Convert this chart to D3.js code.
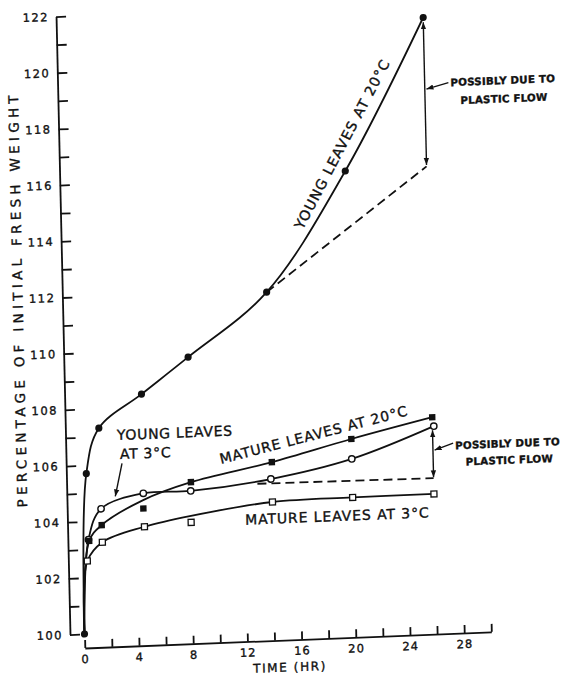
<!DOCTYPE html>
<html><head><meta charset="utf-8">
<script src="https://cdn.jsdelivr.net/npm/d3@7"></script>
<style>
html,body{margin:0;padding:0;background:#fff;}
svg text{font-family:"DejaVu Sans",sans-serif;fill:#111;stroke:#111;stroke-width:0.35;}
</style></head><body>
<svg id="chart" width="566" height="676"></svg>
<script>
// ---------- data ----------
const yTickValues = d3.range(100, 123, 1);          // ticks every 1 %, labels every 2 %
const yLabelValues = [100,102,104,106,108,110,112,114,116,118,120,122];
const xTickValues = d3.range(0, 31, 2);             // ticks every 2 h
const xLabelValues = [0,4,8,12,16,20,24,28];

// Young leaves at 20 C (filled circles)
const youngWarmT = [0, 0.4, 1.4, 4.6, 8.1, 14.0, 20.0, 26.0];
const youngWarmV = [100, 105.7, 107.3, 108.45, 109.7, 111.9, 116.1, 121.45];
const youngWarmDashT = [14.0, 26.0];
const youngWarmDashV = [111.9, 116.15];

// Mature leaves at 20 C (filled squares) and its fitted curve
const matureWarmT = [0.5, 1.45, 4.55, 8.1, 14.1, 20.0, 26.0];
const matureWarmV = [103.3, 103.85, 104.38, 105.25, 105.85, 106.56, 107.22];
const matureWarmCurveT = [0, 0.5, 1.45, 4.55, 8.1, 14.1, 20.0, 26.0];
const matureWarmCurveV = [100, 103.3, 103.85, 104.68, 105.25, 105.85, 106.56, 107.22];

// Young leaves at 3 C (open circles)
const youngColdT = [0.45, 1.43, 4.57, 8.07, 14.0, 20.0, 26.1];
const youngColdV = [103.35, 104.43, 104.92, 104.94, 105.25, 105.85, 106.9];
const youngColdCurveT = [0, 0.45, 1.43, 4.57, 8.07, 14.0, 20.0, 26.1];
const youngColdCurveV = [100, 103.35, 104.43, 104.92, 104.94, 105.25, 105.85, 106.9];
const youngColdDashT = [13.0, 26.0];
const youngColdDashV = [105.1, 105.05];

// Mature leaves at 3 C (open squares)
const matureColdT = [0.33, 1.47, 4.6, 8.05, 14.08, 20.0, 26.0];
const matureColdV = [102.59, 103.24, 103.73, 103.82, 104.43, 104.48, 104.49];
const matureColdCurveT = [0, 0.33, 1.47, 4.6, 8.05, 14.08, 20.0, 26.0];
const matureColdCurveV = [100, 102.59, 103.24, 103.73, 104.05, 104.43, 104.48, 104.49];

// annotation arrows (time, value)
const plasticTopT = [26.0, 26.0],  plasticTopV = [121.28, 116.2];
const plasticLowT = [26.0, 26.0],  plasticLowV = [105.08, 106.76];
const noteTopArrowT = [27.75, 26.12], noteTopArrowV = [119.1, 118.9];
const noteLowArrowT = [27.5, 26.12],  noteLowArrowV = [106.27, 106.05];
const youngColdArrowT = [3.05, 2.5],  youngColdArrowV = [106.02, 104.85];

// ---------- drawing ----------
const W = 566, H = 676;
const svg = d3.select("#chart");
svg.append("rect").attr("width", W).attr("height", H).attr("fill", "#fff");

const defs = svg.append("defs");
defs.append("marker").attr("id", "ah")
  .attr("viewBox", "0 0 10 10").attr("refX", 10).attr("refY", 5)
  .attr("markerWidth", 7).attr("markerHeight", 7)
  .attr("markerUnits", "userSpaceOnUse").attr("orient", "auto-start-reverse")
  .append("path").attr("d", "M0,1.2 L10,5 L0,8.8 z").attr("fill", "#111");

const x = d3.scaleLinear().domain([0, 30]).range([0, 406.5]);
const y = d3.scaleLinear().domain([100, 122]).range([0, -618]);

// the scanned figure is slightly rotated: reproduce that with one transform
const g = svg.append("g")
  .attr("transform", "translate(84.5,634) matrix(1,-0.0396,0.0226,1,0,0)");

const zip = (T, V) => T.map((t, i) => [t, V[i]]);
const smooth = d3.line().x(d => x(d[0])).y(d => y(d[1])).curve(d3.curveCatmullRom.alpha(0.5));
const straight = d3.line().x(d => x(d[0])).y(d => y(d[1]));

// axes
const yAxis = d3.axisLeft(y).tickValues(yTickValues).tickSizeInner(-10).tickSizeOuter(0)
  .tickPadding(7).tickFormat(d => yLabelValues.includes(d) ? d : "");
const yg = g.append("g").attr("transform", "translate(-14.5,0)").call(yAxis);
yg.selectAll("path,line").attr("stroke", "#111").attr("stroke-width", 1.8);
yg.selectAll("text").attr("font-size", 11.5).attr("letter-spacing", 1.5)
  .attr("font-family", "DejaVu Sans").attr("fill", "#111");

const xAxis = d3.axisBottom(x).tickValues(xTickValues).tickSizeInner(-8).tickSizeOuter(0)
  .tickPadding(7).tickFormat(d => xLabelValues.includes(d) ? d : "");
const xg = g.append("g").attr("transform", "translate(0,14)").call(xAxis);
xg.selectAll("path,line").attr("stroke", "#111").attr("stroke-width", 1.8);
xg.selectAll("text").attr("font-size", 11.5).attr("letter-spacing", 1)
  .attr("font-family", "DejaVu Sans").attr("fill", "#111");

// axis titles
g.append("text").attr("transform", `translate(-59,${y(112)}) rotate(-90)`)
  .attr("text-anchor", "middle").attr("dy", "0.35em")
  .attr("font-size", 13.5).attr("letter-spacing", 4.3)
  .text("PERCENTAGE OF INITIAL FRESH WEIGHT");
g.append("text").attr("x", x(15.1)).attr("y", 45.5)
  .attr("text-anchor", "middle").attr("font-size", 12).attr("letter-spacing", 1.6)
  .text("TIME (HR)");

// curves
const curveStyle = p => p.attr("fill", "none").attr("stroke", "#111").attr("stroke-width", 1.8);
curveStyle(g.append("path").attr("d", smooth(zip(youngWarmT, youngWarmV))));
curveStyle(g.append("path").attr("d", smooth(zip(matureWarmCurveT, matureWarmCurveV))));
curveStyle(g.append("path").attr("d", smooth(zip(youngColdCurveT, youngColdCurveV))));
curveStyle(g.append("path").attr("d", smooth(zip(matureColdCurveT, matureColdCurveV))));
curveStyle(g.append("path").attr("d", straight(zip(youngWarmDashT, youngWarmDashV))))
  .attr("stroke-dasharray", "9,5");
curveStyle(g.append("path").attr("d", straight(zip(youngColdDashT, youngColdDashV))))
  .attr("stroke-dasharray", "9,5");

// arrows
const arrow = (T, V, both) => {
  const p = g.append("path").attr("d", straight(zip(T, V)))
    .attr("fill", "none").attr("stroke", "#111").attr("stroke-width", 1.4)
    .attr("marker-end", "url(#ah)");
  if (both) p.attr("marker-start", "url(#ah)");
};
arrow(plasticTopT, plasticTopV, true);
arrow(plasticLowT, plasticLowV, true);
arrow(noteTopArrowT, noteTopArrowV, false);
arrow(noteLowArrowT, noteLowArrowV, false);
arrow(youngColdArrowT, youngColdArrowV, false);

// markers
g.selectAll(".yw").data(zip(youngWarmT, youngWarmV)).enter().append("circle")
  .attr("cx", d => x(d[0])).attr("cy", d => y(d[1])).attr("r", 3.6).attr("fill", "#111");
g.selectAll(".yc").data(zip(youngColdT, youngColdV)).enter().append("circle")
  .attr("cx", d => x(d[0])).attr("cy", d => y(d[1])).attr("r", 3.2)
  .attr("fill", "#fff").attr("stroke", "#111").attr("stroke-width", 1.4);
g.selectAll(".mw").data(zip(matureWarmT, matureWarmV)).enter().append("rect")
  .attr("x", d => x(d[0]) - 3.2).attr("y", d => y(d[1]) - 3.2)
  .attr("width", 6.4).attr("height", 6.4).attr("fill", "#111");
g.selectAll(".mc").data(zip(matureColdT, matureColdV)).enter().append("rect")
  .attr("x", d => x(d[0]) - 3).attr("y", d => y(d[1]) - 3)
  .attr("width", 6).attr("height", 6)
  .attr("fill", "#fff").attr("stroke", "#111").attr("stroke-width", 1.3);

// curve labels
const angle = (t1, v1, t2, v2) => Math.atan2(y(v2) - y(v1), x(t2) - x(t1)) * 180 / Math.PI;
g.append("text")
  .attr("transform", `translate(${x(19.82)},${y(117.06)}) rotate(${angle(16.43,114.13,23.2,119.99)})`)
  .attr("text-anchor", "middle").attr("dy", "0.35em")
  .attr("font-size", 14).attr("letter-spacing", 1)
  .text("YOUNG LEAVES AT 20°C");
g.append("text")
  .attr("transform", `translate(${x(10.35)},${y(105.85)}) rotate(${angle(10.35,105.85,24.5,107.35)})`)
  .attr("font-size", 14).attr("letter-spacing", 0.85)
  .text("MATURE LEAVES AT 20°C");
g.append("text").attr("x", x(12.03)).attr("y", y(103.66))
  .attr("font-size", 14).attr("letter-spacing", 0.9)
  .text("MATURE LEAVES AT 3°C");
g.append("text").attr("x", x(2.72)).attr("y", y(106.85))
  .attr("font-size", 14).attr("letter-spacing", 0.7)
  .text("YOUNG LEAVES");
g.append("text").attr("x", x(2.91)).attr("y", y(106.17))
  .attr("font-size", 14).attr("letter-spacing", 0.7)
  .text("AT 3°C");

// notes
const note = (t, v, s) => g.append("text").attr("x", x(t)).attr("y", y(v))
  .attr("font-size", 10.3).attr("font-weight", "bold").attr("letter-spacing", 0.2).text(s);
note(27.9, 118.97, "POSSIBLY DUE TO");
note(28.6, 118.32, "PLASTIC FLOW");
note(27.65, 106.05, "POSSIBLY DUE TO");
note(28.4, 105.46, "PLASTIC FLOW");
</script>
</body></html>
